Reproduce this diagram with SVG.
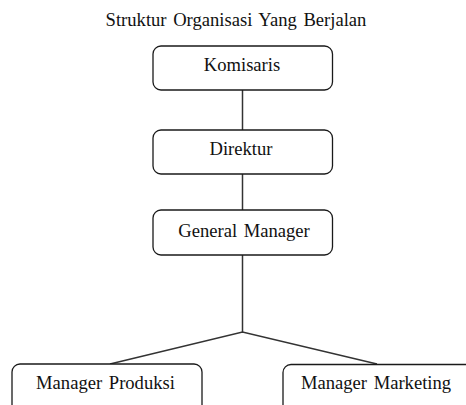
<svg xmlns="http://www.w3.org/2000/svg" width="466" height="405" viewBox="0 0 466 405">
<style>
.box{fill:#fff;stroke:#1a1a1a;stroke-width:1.3}
.lbl{font-family:"Liberation Serif","Times New Roman",serif;font-size:18.6px;fill:#111;text-anchor:middle}
.conn{stroke:#333;stroke-width:1.5;fill:none}
</style>
<rect width="466" height="405" fill="#fff"/>
<text class="lbl" x="236" y="25.5" word-spacing="2">Struktur Organisasi Yang Berjalan</text>
<g id="connectors">
<line class="conn" x1="242.5" y1="90" x2="242.5" y2="130"/>
<line class="conn" x1="242.5" y1="174" x2="242.5" y2="210"/>
<polyline class="conn" points="242.5,255 242.5,332"/>
<polyline class="conn" points="110,364 242.5,332 377,364"/>
</g>
<g id="komisaris">
<rect class="box" x="153" y="46" width="179.5" height="44" rx="8"/>
<text class="lbl" x="242" y="70.5">Komisaris</text>
</g>
<g id="direktur">
<rect class="box" x="153" y="130" width="179.5" height="44" rx="8"/>
<text class="lbl" x="241" y="155">Direktur</text>
</g>
<g id="general-manager">
<rect class="box" x="153" y="210" width="179.5" height="45" rx="8"/>
<text class="lbl" x="244" y="236.5" word-spacing="2">General Manager</text>
</g>
<g id="manager-produksi">
<rect class="box" x="12" y="364" width="190" height="60" rx="8"/>
<text class="lbl" x="105.5" y="389" word-spacing="2">Manager Produksi</text>
</g>
<g id="manager-marketing">
<rect class="box" x="283" y="364.5" width="192" height="60" rx="8"/>
<text class="lbl" x="376" y="389" word-spacing="2">Manager Marketing</text>
</g>
</svg>
